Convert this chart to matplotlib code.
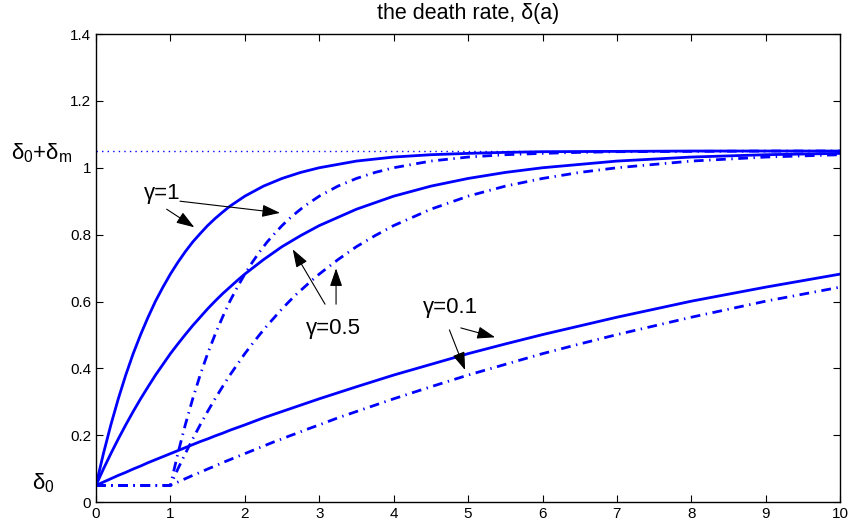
import numpy as np
import matplotlib.pyplot as plt

plt.rcParams['font.family'] = ['Liberation Sans', 'DejaVu Sans']
plt.rcParams['mathtext.fontset'] = 'custom'
plt.rcParams['mathtext.rm'] = 'Liberation Sans'
plt.rcParams['mathtext.it'] = 'Liberation Sans:italic'

# age grid for the curves without delay
a = [0, 0.1, 0.2, 0.3, 0.4, 0.5, 0.6, 0.7, 0.8, 0.9, 1.0,
     1.1, 1.2, 1.3, 1.4, 1.5, 1.6, 1.7, 1.8, 1.9, 2.0,
     2.25, 2.5, 2.75, 3, 3.5, 4, 4.5, 5, 5.5, 6, 7, 8, 9, 10]
g1 = [0.050, 0.145, 0.231, 0.309, 0.380, 0.444, 0.501, 0.553, 0.601, 0.643, 0.682,
      0.717, 0.749, 0.778, 0.803, 0.827, 0.848, 0.867, 0.885, 0.900, 0.915,
      0.945, 0.968, 0.986, 1.000, 1.020, 1.032, 1.039, 1.043, 1.046, 1.048,
      1.049, 1.050, 1.050, 1.050]
g05 = [0.050, 0.099, 0.145, 0.189, 0.231, 0.271, 0.309, 0.345, 0.380, 0.412, 0.444,
       0.473, 0.501, 0.528, 0.553, 0.578, 0.601, 0.623, 0.643, 0.663, 0.682,
       0.725, 0.764, 0.797, 0.827, 0.876, 0.915, 0.945, 0.968, 0.986, 1.000,
       1.020, 1.032, 1.039, 1.043]
g01 = [0.050, 0.060, 0.070, 0.080, 0.089, 0.099, 0.108, 0.118, 0.127, 0.136, 0.145,
       0.154, 0.163, 0.172, 0.181, 0.189, 0.198, 0.206, 0.215, 0.223, 0.231,
       0.252, 0.271, 0.290, 0.309, 0.345, 0.380, 0.412, 0.444, 0.473, 0.501,
       0.553, 0.601, 0.643, 0.682]

# age grid for the delayed curves (dash-dot), flat at delta_0 until a = 1
a_d = [0, 1.0, 1.1, 1.2, 1.3, 1.4, 1.5, 1.6, 1.7, 1.8, 1.9, 2.0,
       2.1, 2.2, 2.3, 2.4, 2.5, 2.6, 2.7, 2.8, 2.9, 3.0,
       3.25, 3.5, 3.75, 4, 4.5, 5, 5.5, 6, 6.5, 7, 8, 9, 10]
g1_d = [0.050, 0.050, 0.145, 0.231, 0.309, 0.380, 0.444, 0.501, 0.553, 0.601, 0.643, 0.682,
        0.717, 0.749, 0.778, 0.803, 0.827, 0.848, 0.867, 0.885, 0.900, 0.915,
        0.945, 0.968, 0.986, 1.000, 1.020, 1.032, 1.039, 1.043, 1.046, 1.048,
        1.049, 1.050, 1.050]
g05_d = [0.050, 0.050, 0.099, 0.145, 0.189, 0.231, 0.271, 0.309, 0.345, 0.380, 0.412, 0.444,
         0.473, 0.501, 0.528, 0.553, 0.578, 0.601, 0.623, 0.643, 0.663, 0.682,
         0.725, 0.764, 0.797, 0.827, 0.876, 0.915, 0.945, 0.968, 0.986, 1.000,
         1.020, 1.032, 1.039]
g01_d = [0.050, 0.050, 0.060, 0.070, 0.080, 0.089, 0.099, 0.108, 0.118, 0.127, 0.136, 0.145,
         0.154, 0.163, 0.172, 0.181, 0.189, 0.198, 0.206, 0.215, 0.223, 0.231,
         0.252, 0.271, 0.290, 0.309, 0.345, 0.380, 0.412, 0.444, 0.473, 0.501,
         0.553, 0.601, 0.643]

delta_max = 1.05

fig = plt.figure(figsize=(8.53, 5.28), dpi=100)
ax = fig.add_axes([0.1125, 0.049, 0.8725, 0.8866])

ax.axhline(delta_max, color='b', lw=1.0, ls=(0, (1, 3)))

for y in (g1, g05, g01):
    ax.plot(a, y, color='b', lw=2.0)
for y in (g1_d, g05_d, g01_d):
    ax.plot(a_d, y, color='b', lw=2.0, ls=(0, (3.5, 2, 0.5, 2)))

ax.set_xlim(0, 10)
ax.set_ylim(0, 1.4)
ax.set_xticks(range(11))
ax.set_yticks(np.arange(0, 1.41, 0.2))
ax.set_yticklabels(['0', '0.2', '0.4', '0.6', '0.8', '1', '1.2', '1.4'])
ax.tick_params(direction='in', top=True, right=True, length=5, width=0.8,
               labelsize=11)
for s in ax.spines.values():
    s.set_linewidth(1.0)

ax.set_title('the death rate, δ(a)', fontsize=15.5, pad=11)

ax.text(-0.32, 1.045, r'δ$_\mathrm{0}$+δ$_\mathrm{m}$', fontsize=16,
        ha='right', va='center')
ax.text(-0.55, 0.057, r'δ$_\mathrm{0}$', fontsize=16, ha='right', va='center')

arw = dict(arrowstyle='-|>,head_length=1.1,head_width=0.38', color='k', lw=0.8,
           shrinkA=0, shrinkB=0)

ax.text(0.887, 0.924, 'γ=1', fontsize=16, ha='center', va='center')
ax.annotate('', xy=(1.321, 0.822), xytext=(0.950, 0.876), arrowprops=arw)
ax.annotate('', xy=(2.473, 0.865), xytext=(1.129, 0.900), arrowprops=arw)

ax.text(3.185, 0.520, 'γ=0.5', fontsize=16, ha='center', va='center')
ax.annotate('', xy=(2.644, 0.756), xytext=(3.078, 0.592), arrowprops=arw)
ax.annotate('', xy=(3.226, 0.699), xytext=(3.226, 0.592), arrowprops=arw)

ax.text(4.758, 0.583, 'γ=0.1', fontsize=16, ha='center', va='center')
ax.annotate('', xy=(5.363, 0.493), xytext=(4.902, 0.521), arrowprops=arw)
ax.annotate('', xy=(4.960, 0.395), xytext=(4.749, 0.515), arrowprops=arw)

fig.savefig('out.png', dpi=100)
